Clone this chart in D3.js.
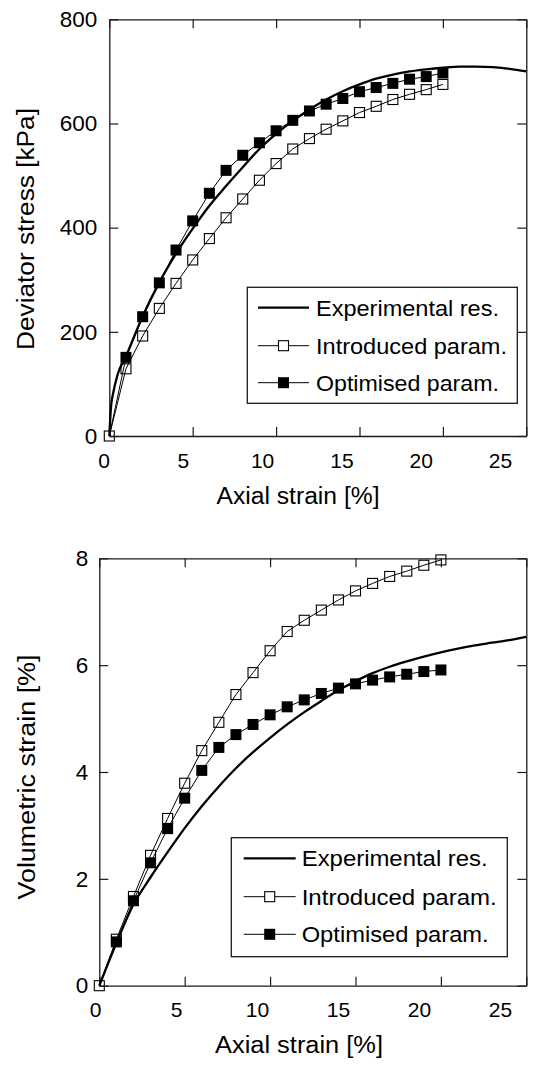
<!DOCTYPE html>
<html>
<head>
<meta charset="utf-8">
<script src="https://cdn.jsdelivr.net/npm/d3@7"></script>
<style>
  html, body { margin: 0; padding: 0; background: #fff; }
  svg { display: block; }
</style>
</head>
<body>
<script>
// Data
const STRAIN_PTS = [0, 1, 2, 3, 4, 5, 6, 7, 8, 9, 10, 11, 12, 13, 14, 15, 16, 17, 18, 19, 20];

const DEV_INTRO = [0, 129, 192, 245, 293, 338, 379, 419, 455, 491, 523, 551, 571, 589, 605, 621, 633, 646, 656, 665, 675];
const DEV_OPT   = [0, 151, 229, 294, 357, 413, 466, 510, 539, 563, 586, 606, 624, 637, 648, 661, 669, 677, 685, 690, 697];
const DEV_EXP_X = [0, 0.1, 0.25, 0.5, 1, 2, 3, 4, 5, 6, 7, 8, 9, 10, 11, 12, 13, 14, 15, 16, 17, 18, 19, 20, 21, 22, 23, 24, 25];
const DEV_EXP   = [0, 55, 85, 118, 153, 230, 295, 350, 398, 442, 480, 516, 551, 580, 605, 627, 646, 662, 675, 686, 694, 700, 704, 707, 709, 709, 708, 705, 700];

const VOL_INTRO = [0, 0.87, 1.67, 2.44, 3.13, 3.79, 4.40, 4.93, 5.45, 5.86, 6.27, 6.63, 6.84, 7.03, 7.22, 7.39, 7.53, 7.66, 7.76, 7.87, 7.97];
const VOL_OPT   = [0, 0.82, 1.59, 2.30, 2.94, 3.51, 4.03, 4.46, 4.70, 4.89, 5.07, 5.22, 5.35, 5.47, 5.57, 5.65, 5.72, 5.78, 5.83, 5.88, 5.91];
const VOL_EXP_X = [0, 1, 2, 3, 4, 5, 6, 7, 8, 9, 10, 11, 12, 13, 14, 15, 16, 17, 18, 19, 20, 21, 22, 23, 24, 25];
const VOL_EXP   = [0, 0.80, 1.52, 2.03, 2.50, 2.95, 3.36, 3.73, 4.07, 4.37, 4.64, 4.89, 5.12, 5.33, 5.53, 5.70, 5.85, 5.97, 6.07, 6.16, 6.24, 6.31, 6.37, 6.42, 6.47, 6.53];

const X_TICKS   = [0, 5, 10, 15, 20, 25];
const DEV_TICKS = [0, 200, 400, 600, 800];
const VOL_TICKS = [0, 2, 4, 6, 8];

const LEGEND_LABELS = ['Experimental res.', 'Introduced param.', 'Optimised param.'];

// Look
const W = 550, H = 1065;
const FONT = "'Liberation Sans', Arial, Helvetica, sans-serif";
const FG = '#000';
const FRAME = '#1a1a1a';
const TICK = 9;

const svg = d3.select('body').append('svg')
  .attr('width', W)
  .attr('height', H)
  .attr('font-family', FONT);

svg.append('rect').attr('width', W).attr('height', H).attr('fill', '#fff');

// one panel
function panel(cfg) {
  const x = d3.scaleLinear().domain([0, 25]).range([cfg.left, cfg.right]);
  const y = d3.scaleLinear().domain([0, cfg.yMax]).range([cfg.bottom, cfg.top]);
  // the printed tick labels sit a bit compressed compared to the ticks
  const xLab = d3.scaleLinear().domain([0, 25]).range(cfg.labRange);

  const g = svg.append('g');

  // frame + inward ticks
  const bottomAx = g.append('g')
    .attr('transform', `translate(0,${cfg.bottom})`)
    .call(d3.axisBottom(x).tickValues(X_TICKS).tickSize(-TICK).tickSizeOuter(0).tickPadding(cfg.xPad));
  bottomAx.selectAll('text')
    .attr('x', d => xLab(d) - x(d))
    .attr('font-size', 21).attr('fill', FG).attr('font-family', FONT);

  const leftAx = g.append('g')
    .attr('transform', `translate(${cfg.left},0)`)
    .call(d3.axisLeft(y).tickValues(cfg.yTicks).tickSize(-TICK).tickSizeOuter(0).tickPadding(cfg.yPad));
  leftAx.selectAll('text')
    .attr('font-size', 22.5).attr('fill', FG).attr('font-family', FONT);

  g.append('g')
    .attr('transform', `translate(0,${cfg.top})`)
    .call(d3.axisTop(x).tickValues(X_TICKS).tickSize(-TICK).tickSizeOuter(0).tickFormat(''));
  g.append('g')
    .attr('transform', `translate(${cfg.right},0)`)
    .call(d3.axisRight(y).tickValues(cfg.yTicks).tickSize(-TICK).tickSizeOuter(0).tickFormat(''));

  g.selectAll('.domain').attr('stroke', FRAME).attr('stroke-width', 1.3);
  g.selectAll('.tick line').attr('stroke', FRAME).attr('stroke-width', 1.2);

  // axis titles
  g.append('text')
    .attr('x', cfg.xTitle[0]).attr('y', cfg.xTitle[1])
    .attr('text-anchor', 'middle')
    .attr('font-size', 23)
    .attr('textLength', cfg.xTitle[2]).attr('lengthAdjust', 'spacingAndGlyphs')
    .attr('fill', FG)
    .text(cfg.xLabel);

  g.append('text')
    .attr('transform', `translate(${cfg.yTitle[0]},${cfg.yTitle[1]}) rotate(-90)`)
    .attr('text-anchor', 'middle')
    .attr('font-size', 23)
    .attr('textLength', cfg.yTitle[2]).attr('lengthAdjust', 'spacingAndGlyphs')
    .attr('fill', FG)
    .text(cfg.yLabel);

  // series
  const pts = (xs, ys) => xs.map((d, i) => [d, ys[i]]);
  const lin = d3.line().x(d => x(d[0])).y(d => y(d[1]));
  const smooth = d3.line().x(d => x(d[0])).y(d => y(d[1])).curve(d3.curveMonotoneX);

  const intro = pts(STRAIN_PTS, cfg.intro);
  const opt = pts(STRAIN_PTS, cfg.opt);
  const exp = pts(cfg.expX, cfg.exp);

  g.append('path').datum(intro).attr('d', lin)
    .attr('fill', 'none').attr('stroke', FG).attr('stroke-width', 1);
  g.append('path').datum(opt).attr('d', lin)
    .attr('fill', 'none').attr('stroke', FG).attr('stroke-width', 1);
  g.append('path').datum(exp).attr('d', smooth)
    .attr('fill', 'none').attr('stroke', FG).attr('stroke-width', 2.3);

  const S = 10;
  g.selectAll('.m-intro').data(intro).join('rect')
    .attr('class', 'm-intro')
    .attr('x', d => x(d[0]) - S / 2).attr('y', d => y(d[1]) - S / 2)
    .attr('width', S).attr('height', S)
    .attr('fill', 'none').attr('stroke', FG).attr('stroke-width', 1.1);
  g.selectAll('.m-opt').data(opt.slice(1)).join('rect')
    .attr('class', 'm-opt')
    .attr('x', d => x(d[0]) - 5.5).attr('y', d => y(d[1]) - 5.5)
    .attr('width', 11).attr('height', 11)
    .attr('fill', FG);

  // legend
  const L = cfg.legend;
  const lg = g.append('g');
  lg.append('rect')
    .attr('x', L.x).attr('y', L.y).attr('width', L.w).attr('height', L.h)
    .attr('fill', '#fff').attr('stroke', FRAME).attr('stroke-width', 1.3);

  LEGEND_LABELS.forEach((label, i) => {
    const ry = L.rows[i];
    lg.append('line')
      .attr('x1', L.lx0).attr('x2', L.lx1).attr('y1', ry).attr('y2', ry)
      .attr('stroke', FG).attr('stroke-width', i === 0 ? 2.3 : 1);
    const mx = (L.lx0 + L.lx1) / 2;
    if (i === 1) {
      lg.append('rect')
        .attr('x', mx - 5).attr('y', ry - 5).attr('width', 10).attr('height', 10)
        .attr('fill', '#fff').attr('stroke', FG).attr('stroke-width', 1.1);
    } else if (i === 2) {
      lg.append('rect')
        .attr('x', mx - 5.5).attr('y', ry - 5.5).attr('width', 11).attr('height', 11)
        .attr('fill', FG);
    }
    lg.append('text')
      .attr('x', L.tx).attr('y', ry + 8)
      .attr('font-size', 22)
      .attr('textLength', L.tw[i]).attr('lengthAdjust', 'spacingAndGlyphs')
      .attr('fill', FG)
      .text(label);
  });
}

panel({
  left: 109.3, right: 526.3, top: 19.3, bottom: 436,
  yMax: 800, yTicks: DEV_TICKS,
  labRange: [103.5, 500],
  xPad: 17, yPad: 12,
  xLabel: 'Axial strain [%]', xTitle: [298, 504, 163],
  yLabel: 'Deviator stress [kPa]', yTitle: [34, 229, 242],
  intro: DEV_INTRO, opt: DEV_OPT, expX: DEV_EXP_X, exp: DEV_EXP,
  legend: { x: 247.3, y: 287.3, w: 270, h: 116, rows: [307.7, 345.7, 382.7],
            lx0: 258, lx1: 309, tx: 316, tw: [183, 191, 183] }
});

panel({
  left: 99.3, right: 526.3, top: 558.3, bottom: 985.7,
  yMax: 8, yTicks: VOL_TICKS,
  labRange: [95, 500],
  xPad: 16.5, yPad: 11,
  xLabel: 'Axial strain [%]', xTitle: [299, 1053, 168],
  yLabel: 'Volumetric strain [%]', yTitle: [35, 777, 245],
  intro: VOL_INTRO, opt: VOL_OPT, expX: VOL_EXP_X, exp: VOL_EXP,
  legend: { x: 231.3, y: 837.7, w: 276, h: 119, rows: [858.3, 896.7, 934.3],
            lx0: 243.7, lx1: 295.7, tx: 301.7, tw: [186, 195, 187] }
});
</script>
</body>
</html>
